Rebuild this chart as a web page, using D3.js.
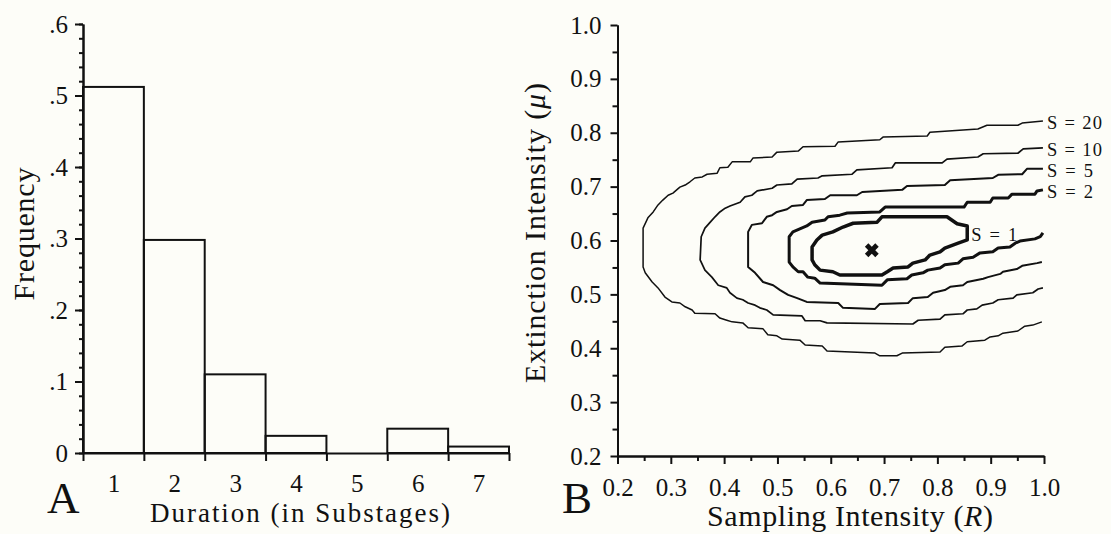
<!DOCTYPE html>
<html>
<head>
<meta charset="utf-8">
<script src="https://cdn.jsdelivr.net/npm/d3@7"></script>
<style>
  html, body { margin: 0; padding: 0; background: #fdfdf8; }
  svg { display: block; }
  .axis path, .axis line { stroke: #111; stroke-width: 2; }
  .axis text { fill: #111; }
  .bar { fill: none; stroke: #111; stroke-width: 2; }
  .contour { fill: none; stroke: #111; stroke-linejoin: round; }
</style>
</head>
<body>
<svg id="chart" width="1111" height="534"></svg>
<script>
// Panel A: duration histogram
const durations = [1, 2, 3, 4, 5, 6, 7];
const frequencies = [0.512, 0.298, 0.110, 0.024, 0, 0.034, 0.009];
const freqTicks = [0, 0.1, 0.2, 0.3, 0.4, 0.5, 0.6];
const freqTickLabels = ['0', '.1', '.2', '.3', '.4', '.5', '.6'];

// Panel B: contours of S over sampling (R) and extinction (mu) intensity
const intensityTicks = [0.2, 0.3, 0.4, 0.5, 0.6, 0.7, 0.8, 0.9, 1.0];
const intensityTickLabels = ['0.2', '0.3', '0.4', '0.5', '0.6', '0.7', '0.8', '0.9', '1.0'];
const contourLevels = [20, 10, 5, 2, 1];

const contourS20 = [[0.998,0.822],[0.959,0.818],[0.951,0.814],[0.893,0.814],[0.876,0.807],[0.786,0.801],[0.781,0.794],[0.698,0.792],[0.692,0.787],[0.614,0.783],[0.608,0.775],[0.548,0.774],[0.539,0.766],[0.499,0.764],[0.490,0.755],[0.454,0.753],[0.449,0.746],[0.415,0.746],[0.407,0.736],[0.392,0.735],[0.387,0.725],[0.368,0.723],[0.359,0.718],[0.345,0.716],[0.336,0.709],[0.327,0.703],[0.317,0.699],[0.304,0.688],[0.295,0.684],[0.285,0.675],[0.276,0.666],[0.267,0.653],[0.257,0.642],[0.248,0.623],[0.248,0.551],[0.252,0.540],[0.265,0.523],[0.276,0.512],[0.289,0.495],[0.302,0.486],[0.317,0.484],[0.327,0.477],[0.340,0.471],[0.345,0.465],[0.383,0.464],[0.392,0.456],[0.405,0.452],[0.415,0.449],[0.435,0.447],[0.445,0.438],[0.473,0.436],[0.482,0.425],[0.499,0.423],[0.509,0.417],[0.542,0.415],[0.552,0.406],[0.584,0.404],[0.593,0.395],[0.683,0.391],[0.692,0.386],[0.724,0.386],[0.734,0.391],[0.805,0.393],[0.814,0.402],[0.846,0.404],[0.856,0.412],[0.889,0.415],[0.899,0.421],[0.914,0.423],[0.923,0.428],[0.951,0.432],[0.964,0.441],[0.979,0.443],[0.996,0.449]];

const contourS10 = [[0.998,0.772],[0.961,0.770],[0.951,0.762],[0.886,0.761],[0.876,0.755],[0.818,0.751],[0.809,0.744],[0.721,0.744],[0.715,0.735],[0.649,0.731],[0.640,0.723],[0.584,0.720],[0.576,0.716],[0.537,0.714],[0.527,0.705],[0.499,0.703],[0.490,0.697],[0.462,0.692],[0.452,0.684],[0.439,0.681],[0.430,0.671],[0.411,0.664],[0.402,0.660],[0.392,0.653],[0.383,0.644],[0.374,0.634],[0.364,0.623],[0.357,0.607],[0.355,0.564],[0.364,0.545],[0.377,0.532],[0.389,0.517],[0.405,0.512],[0.411,0.503],[0.424,0.493],[0.435,0.490],[0.445,0.484],[0.458,0.480],[0.467,0.475],[0.480,0.471],[0.492,0.462],[0.546,0.460],[0.552,0.451],[0.580,0.451],[0.593,0.447],[0.754,0.445],[0.764,0.452],[0.805,0.454],[0.814,0.462],[0.848,0.464],[0.856,0.471],[0.874,0.473],[0.884,0.480],[0.904,0.484],[0.914,0.490],[0.942,0.493],[0.949,0.499],[0.979,0.503],[0.989,0.510],[0.998,0.512]];

const contourS5 = [[0.998,0.733],[0.968,0.733],[0.959,0.723],[0.914,0.722],[0.904,0.716],[0.824,0.712],[0.814,0.703],[0.743,0.701],[0.734,0.694],[0.659,0.690],[0.649,0.684],[0.599,0.684],[0.589,0.677],[0.555,0.675],[0.548,0.666],[0.527,0.664],[0.518,0.658],[0.499,0.653],[0.490,0.647],[0.480,0.644],[0.471,0.632],[0.452,0.629],[0.445,0.616],[0.445,0.551],[0.458,0.540],[0.473,0.523],[0.492,0.517],[0.505,0.508],[0.520,0.499],[0.537,0.493],[0.555,0.486],[0.614,0.484],[0.623,0.475],[0.683,0.473],[0.692,0.482],[0.745,0.484],[0.754,0.493],[0.782,0.495],[0.792,0.503],[0.814,0.508],[0.824,0.514],[0.848,0.517],[0.856,0.523],[0.886,0.529],[0.895,0.532],[0.918,0.538],[0.923,0.542],[0.949,0.547],[0.959,0.553],[0.987,0.558],[0.996,0.560]];

const contourS2 = [[0.998,0.694],[0.987,0.692],[0.983,0.686],[0.940,0.686],[0.933,0.679],[0.904,0.679],[0.899,0.671],[0.856,0.671],[0.850,0.662],[0.702,0.662],[0.692,0.653],[0.631,0.651],[0.617,0.647],[0.595,0.644],[0.589,0.638],[0.565,0.634],[0.555,0.627],[0.529,0.616],[0.522,0.607],[0.522,0.560],[0.529,0.551],[0.539,0.542],[0.548,0.542],[0.557,0.532],[0.570,0.530],[0.580,0.521],[0.696,0.517],[0.706,0.527],[0.743,0.529],[0.752,0.536],[0.773,0.540],[0.782,0.545],[0.805,0.549],[0.814,0.555],[0.839,0.558],[0.848,0.566],[0.867,0.569],[0.880,0.577],[0.904,0.579],[0.914,0.586],[0.936,0.588],[0.946,0.595],[0.955,0.599],[0.983,0.603],[0.993,0.607],[0.998,0.614]];

// S = 1 is a closed loop around the best estimate
const contourS1 = [[0.696,0.644],[0.818,0.644],[0.837,0.631],[0.856,0.627],[0.856,0.601],[0.839,0.595],[0.814,0.586],[0.805,0.579],[0.786,0.573],[0.777,0.564],[0.754,0.558],[0.745,0.551],[0.717,0.549],[0.706,0.542],[0.696,0.536],[0.617,0.536],[0.604,0.542],[0.580,0.545],[0.570,0.555],[0.565,0.564],[0.565,0.588],[0.574,0.601],[0.584,0.610],[0.604,0.616],[0.623,0.625],[0.642,0.632],[0.687,0.634]];

const bestEstimate = [0.677, 0.582];

const contours = { 20: contourS20, 10: contourS10, 5: contourS5, 2: contourS2, 1: contourS1 };
const strokeWidths = { 20: 1.5, 10: 1.7, 5: 2, 2: 3, 1: 3.5 };
const FONT = '"Liberation Serif", "Times New Roman", serif';

const svg = d3.select('#chart');

// text helper: every label gets the serif font inline
const addText = (size) => svg.append('text')
  .style('font-family', FONT)
  .style('font-size', `${size}px`)
  .attr('fill', '#111');

const styleTicks = g => g.selectAll('text').style('font-family', FONT).style('font-size', '25px');

// ---------- Panel A ----------
const xA = d3.scaleLinear().domain([0.5, 7.5]).range([83, 509]);
const yA = d3.scaleLinear().domain([0, 0.6]).range([453, 24]);

svg.append('g').selectAll('rect')
  .data(durations)
  .enter()
  .append('rect')
  .attr('class', 'bar')
  .attr('x', d => xA(d - 0.5))
  .attr('width', d => xA(d + 0.5) - xA(d - 0.5))
  .attr('y', (d, i) => yA(frequencies[i]))
  .attr('height', (d, i) => yA(0) - yA(frequencies[i]));

// minor ticks every .02
svg.append('g').attr('class', 'axis').attr('transform', `translate(${xA.range()[0]},0)`)
  .call(d3.axisLeft(yA).tickValues(d3.range(0, 0.601, 0.02)).tickSize(4).tickFormat('').tickSizeOuter(0));
svg.append('g').attr('class', 'axis').attr('transform', `translate(${xA.range()[0]},0)`)
  .call(d3.axisLeft(yA).tickValues(freqTicks).tickSize(8).tickPadding(7).tickSizeOuter(0)
    .tickFormat((d, i) => freqTickLabels[i]))
  .call(styleTicks);

// bin edges on the x axis, labels at bin centres
svg.append('g').attr('class', 'axis').attr('transform', `translate(0,${yA(0)})`)
  .call(d3.axisBottom(xA).tickValues(durations.map(d => d - 0.5).concat([7.5])).tickSize(8).tickFormat('').tickSizeOuter(0));
svg.append('g').attr('class', 'axis').attr('transform', `translate(0,${yA(0)})`)
  .call(d3.axisBottom(xA).tickValues(durations).tickSize(0).tickPadding(21).tickFormat(d3.format('d')))
  .call(g => g.select('.domain').remove())
  .call(styleTicks);

addText(27)
  .attr('text-anchor', 'middle')
  .attr('x', 300).attr('y', 522)
  .attr('textLength', 300)
  .text('Duration (in Substages)');

addText(30)
  .attr('text-anchor', 'middle')
  .attr('transform', 'translate(34,234) rotate(-90)')
  .attr('textLength', 133)
  .text('Frequency');

addText(45).attr('x', 47).attr('y', 513).text('A');

// ---------- Panel B ----------
const xB = d3.scaleLinear().domain([0.2, 1.0]).range([617.5, 1044]);
const yB = d3.scaleLinear().domain([0.2, 1.0]).range([456, 25]);

svg.append('g').attr('class', 'axis').attr('transform', `translate(${xB.range()[0]},0)`)
  .call(d3.axisLeft(yB).tickValues(d3.range(0.25, 1.0, 0.1)).tickSize(5).tickFormat('').tickSizeOuter(0));
svg.append('g').attr('class', 'axis').attr('transform', `translate(${xB.range()[0]},0)`)
  .call(d3.axisLeft(yB).tickValues(intensityTicks).tickSize(7).tickPadding(9).tickSizeOuter(0)
    .tickFormat((d, i) => intensityTickLabels[i]))
  .call(styleTicks);

svg.append('g').attr('class', 'axis').attr('transform', `translate(0,${yB.range()[0]})`)
  .call(d3.axisBottom(xB).tickValues(d3.range(0.25, 1.0, 0.1)).tickSize(5).tickFormat('').tickSizeOuter(0));
svg.append('g').attr('class', 'axis').attr('transform', `translate(0,${yB.range()[0]})`)
  .call(d3.axisBottom(xB).tickValues(intensityTicks).tickSize(8).tickPadding(14).tickSizeOuter(0)
    .tickFormat((d, i) => intensityTickLabels[i]))
  .call(styleTicks);

const line = d3.line().x(d => xB(d[0])).y(d => yB(d[1]));
const loop = d3.line().x(d => xB(d[0])).y(d => yB(d[1])).curve(d3.curveLinearClosed);

contourLevels.forEach(level => {
  const pts = contours[level];
  const closed = level === 1;
  svg.append('path')
    .datum(pts)
    .attr('class', 'contour')
    .attr('stroke-width', strokeWidths[level])
    .attr('d', closed ? loop : line);

  // label sits just right of the contour: the top end for open curves, the right edge for the loop
  let anchor = pts[0];
  if (closed) {
    const maxR = d3.max(pts, d => d[0]);
    const edge = pts.filter(d => d[0] === maxR);
    anchor = [maxR, d3.mean(edge, d => d[1])];
  }
  addText(18.5)
    .attr('x', xB(anchor[0]) + 4)
    .attr('y', yB(anchor[1]) + 2)
    .attr('dominant-baseline', 'central')
    .attr('textLength', level >= 10 ? 55 : 46)
    .text(`S = ${level}`);
});

svg.append('path')
  .attr('transform', `translate(${xB(bestEstimate[0])},${yB(bestEstimate[1])}) rotate(45)`)
  .attr('d', d3.symbol(d3.symbolCross, 120))
  .attr('fill', '#111');

const xTitle = addText(30)
  .attr('text-anchor', 'middle')
  .attr('x', 850).attr('y', 526)
  .attr('textLength', 286);
xTitle.append('tspan').text('Sampling Intensity (');
xTitle.append('tspan').attr('font-style', 'italic').text('R');
xTitle.append('tspan').text(')');

const yTitle = addText(30)
  .attr('text-anchor', 'middle')
  .attr('transform', 'translate(545,233) rotate(-90)')
  .attr('textLength', 300);
yTitle.append('tspan').text('Extinction Intensity (');
yTitle.append('tspan').attr('font-style', 'italic').text('μ');
yTitle.append('tspan').text(')');

addText(45).attr('x', 562).attr('y', 513).text('B');
</script>
</body>
</html>
